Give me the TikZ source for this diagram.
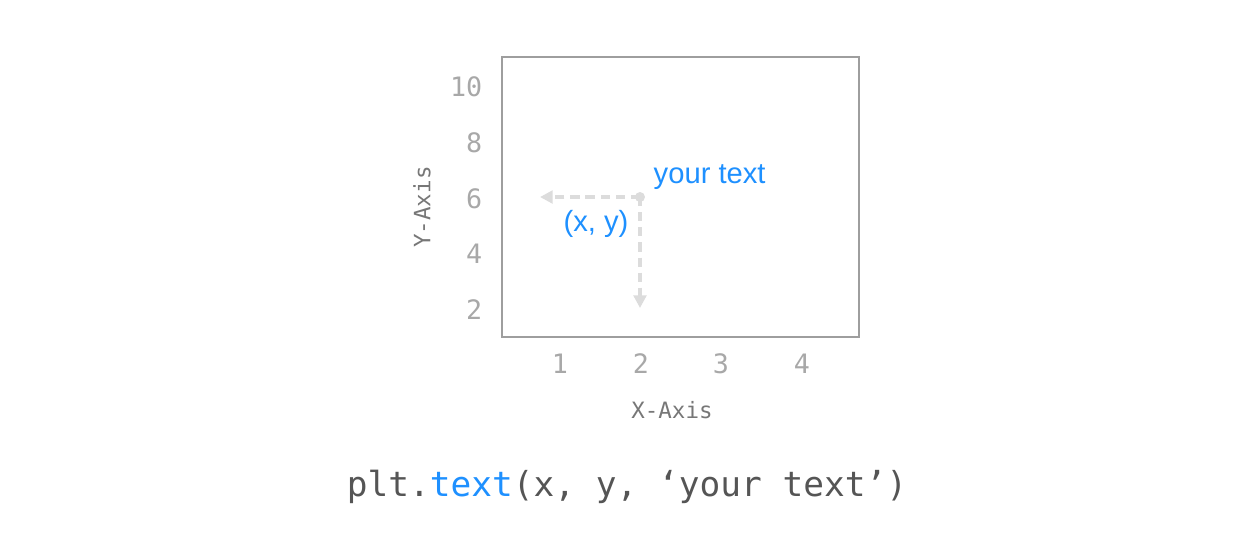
\documentclass[tikz,border=0pt]{standalone}
\usepackage{fontspec}
\setmainfont{Liberation Sans}
\setmonofont{DejaVu Sans Mono}
\usetikzlibrary{arrows.meta}
\definecolor{framegray}{HTML}{9E9E9E}
\definecolor{tickgray}{HTML}{A8A8A8}
\definecolor{labelgray}{HTML}{777777}
\definecolor{guidegray}{HTML}{DCDCDC}
\definecolor{codegray}{HTML}{555555}
\definecolor{textblue}{HTML}{1E90FF}
\tikzset{
  tick/.style={text=tickgray, font=\ttfamily\fontsize{7.6}{9}\selectfont, inner sep=0pt},
  axislabel/.style={text=labelgray, font=\ttfamily\fontsize{6.4}{8}\selectfont, inner sep=0pt},
  guide/.style={draw=guidegray, line width=1.1pt, dash pattern=on 2.6pt off 1.7pt, -{Triangle[length=3.6pt, width=3.6pt]}},
  bluetext/.style={text=textblue, font=\fontsize{8.3}{10}\selectfont, inner sep=0pt}
}
\begin{document}
\begin{tikzpicture}[x=0.01cm, y=-0.01cm]
            \useasboundingbox (0,0) rectangle (1256,550);
            % Plot frame
            \draw[framegray, line width=0.8pt] (502,57) rectangle (859,337);
            
            % Y ticks
            \node[tick, anchor=east] (y10) at (483, 87) {10};
            \node[tick, anchor=east] (y8) at (483, 143) {8};
            \node[tick, anchor=east] (y6) at (483, 199) {6};
            \node[tick, anchor=east] (y4) at (483, 254) {4};
            \node[tick, anchor=east] (y2) at (483, 310) {2};
            
            % X ticks
            \node[tick] (x1) at (560, 364) {1};
            \node[tick] (x2) at (641, 364) {2};
            \node[tick] (x3) at (721, 364) {3};
            \node[tick] (x4) at (802, 364) {4};
            
            % Axis labels
            \node[axislabel] (xaxis) at (672, 410) {X-Axis};
            \node[axislabel, rotate=90] (yaxis) at (422, 207) {Y-Axis};
            
            % Point and guides
            \coordinate (pt) at (640, 197);
            \coordinate (left) at (540, 197);
            \coordinate (down) at (640, 308);
            \fill[guidegray] (pt) circle (5);
            \draw[guide] (pt) -- (left);
            \draw[guide] (pt) -- (down);
            
            % Labels
            \node[bluetext, anchor=west] (label) at (653, 177) {your text};
            \node[bluetext] (xy) at (596, 224) {(x, y)};
            
            % Call
            \node[anchor=base, text=codegray, font=\ttfamily\fontsize{9.8}{12}\selectfont, inner sep=0pt] (call) at (627, 496) {plt.\textcolor{textblue}{text}(x, y, ‘your text’)};
        \end{tikzpicture}
\end{document}
